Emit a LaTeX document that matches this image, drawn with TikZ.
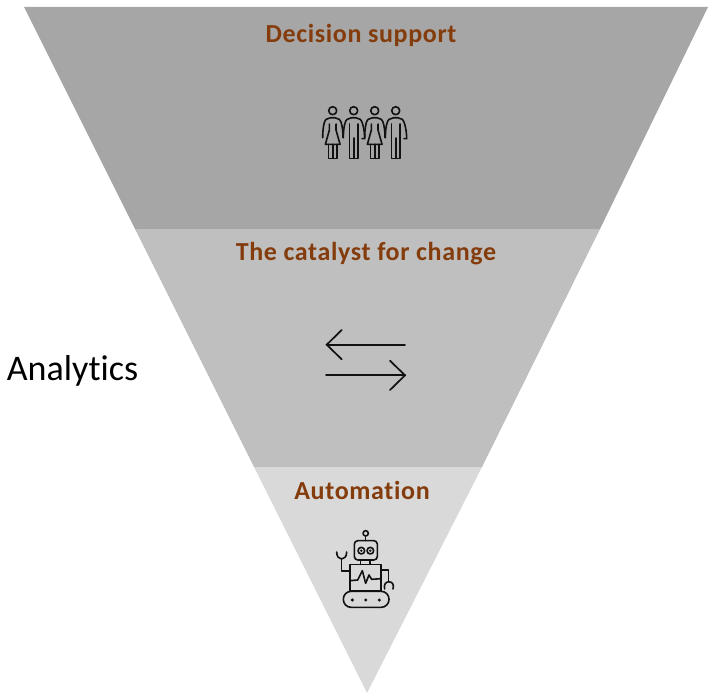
\documentclass[tikz,border=0pt]{standalone}
\usepackage{fontspec}
\setmainfont[Ligatures=NoCommon]{Carlito}
\definecolor{bandA}{HTML}{A6A6A6}
\definecolor{bandB}{HTML}{BFBFBF}
\definecolor{bandC}{HTML}{D9D9D9}
\definecolor{labelbrown}{HTML}{843C0C}
\definecolor{ink}{HTML}{111111}
\tikzset{
  band/.style={draw=none},
  bandlabel/.style={font=\fontsize{26}{30}\selectfont\bfseries\addfontfeature{LetterSpace=2.5}, text=labelbrown, inner sep=0pt, anchor=center},
  iconline/.style={draw=ink, line width=1.6pt, line cap=round, line join=round},
  arrowline/.style={draw=ink, line width=1.7pt, line cap=round, line join=miter},
  iconscale/.style={x=0.3333pt,y=-0.3333pt}
}
\newcommand{\womanicon}[1]{%
  \begin{scope}[shift={#1},iconscale,iconline]
    \draw (0,0) circle (12);
    \draw (-30,81) .. controls (-30,55) and (-26,30) .. (-20,26) -- (-6,21) -- (6,21) -- (20,26) .. controls (26,30) and (31,55) .. (31,81);
    \draw (-10,40) -- (-10,58) -- (-22,101) -- (22,101) -- (10,58) -- (10,40);
    \draw (-13,101) -- (-13,143) -- (13,143) -- (13,101);
    \draw (0,101) -- (0,143);
  \end{scope}}
\newcommand{\manicon}[1]{%
  \begin{scope}[shift={#1},iconscale,iconline]
    \draw (0,0) circle (12);
    \draw (-31,81) .. controls (-31,50) and (-26,30) .. (-20,26) -- (-6,21) -- (6,21) -- (20,26) .. controls (26,30) and (33,60) .. (33,84) -- (25,84);
    \draw (-13,40) -- (-13,143) -- (13,143) -- (13,40);
    \draw (0,82) -- (0,143);
  \end{scope}}
\begin{document}
\begin{tikzpicture}[x=1pt,y=-1pt]
\useasboundingbox (0,0) rectangle (708,693);
% bands
\fill[bandA,band] (24,7) -- (708,7) -- (600,229) -- (135,229) -- cycle;
\fill[bandB,band] (135,229) -- (600,229) -- (482,467) -- (254,467) -- cycle;
\fill[bandC,band] (254,467) -- (482,467) -- (367,693) -- cycle;
% labels
\node[bandlabel] (decision) at (361,35) {Decision support};
\node[bandlabel] (catalyst) at (366,254) {The catalyst for change};
\node[bandlabel] (automation) at (362,490) {Automation};
\node[font=\fontsize{36}{41}\selectfont, text=black, inner sep=0pt] (analytics) at (72.5,371) {Analytics};
% people
\womanicon{(332.7,110.7)}
\manicon{(353.7,110.7)}
\womanicon{(374.7,110.7)}
\manicon{(395.7,110.7)}
% arrows
\coordinate (leftTail) at (405,344.7);
\coordinate (leftTip) at (326.7,344.7);
\coordinate (leftUp) at (341.7,330);
\coordinate (leftDown) at (341.7,359.3);
\coordinate (rightTail) at (326,375.3);
\coordinate (rightTip) at (405,375.3);
\coordinate (rightUp) at (390,360.7);
\coordinate (rightDown) at (390,390);
\draw[arrowline] (leftTail) -- (leftTip);
\draw[arrowline] (leftUp) -- (leftTip) -- (leftDown);
\draw[arrowline] (rightTail) -- (rightTip);
\draw[arrowline] (rightUp) -- (rightTip) -- (rightDown);
% robot
\begin{scope}[shift={(320,520)},iconscale,iconline]
  \draw (137,40) circle (8);
  \draw (137,48) -- (137,62);
  \draw[rounded corners=3.5pt] (103,62) rectangle (172,120);
  \draw (124,92) circle (10);
  \draw (151,92) circle (10);
  \fill[ink] (124,92) circle (4);
  \fill[ink] (151,92) circle (4);
  \draw (122,120) -- (122,133);
  \draw (150,120) -- (150,133);
  \draw (90,133) rectangle (183,213);
  \draw (90,182) -- (113,180) -- (127,152) -- (137,190) -- (147,165) -- (155,178) -- (183,176);
  \draw (90,153) -- (65,153) -- (65,117);
  \draw (50,96) .. controls (50,124) and (80,124) .. (80,96);
  \draw (183,150) -- (205,150) -- (205,185);
  \draw (194,207) .. controls (186,178) and (228,178) .. (219,207);
  \draw[rounded corners=7.8pt] (70,214) rectangle (207,262);
  \fill[ink] (97,240) circle (5);
  \fill[ink] (137,240) circle (5);
  \fill[ink] (178,240) circle (5);
\end{scope}
\end{tikzpicture}
\end{document}
